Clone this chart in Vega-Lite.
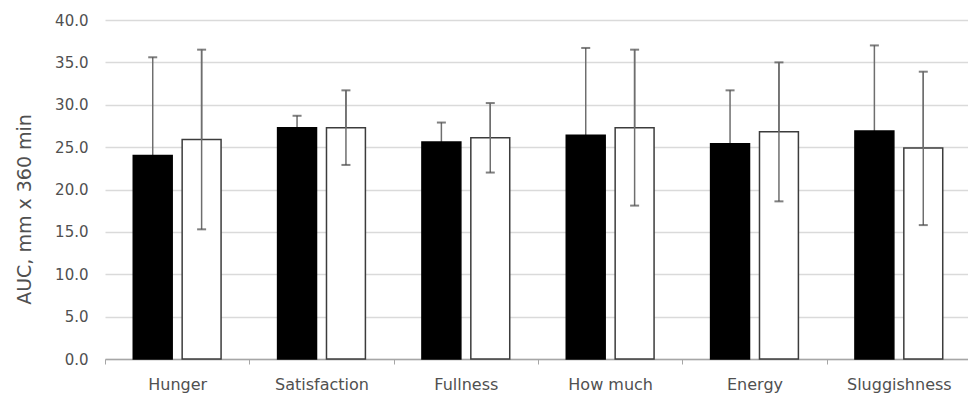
{
  "$schema": "https://vega.github.io/schema/vega-lite/v6.json",
  "autosize": {"type": "none"},
  "width": 866,
  "height": 339,
  "padding": {"left": 105, "top": 20, "right": 0, "bottom": 44},
  "background": "white",
  "config": {"view": {"stroke": null}},
  "data": {
    "values": [
      {"category": "Hunger", "group": "A", "mean": 24.0, "lo": 12.4, "hi": 35.6},
      {"category": "Hunger", "group": "B", "mean": 25.9, "lo": 15.3, "hi": 36.5},
      {"category": "Satisfaction", "group": "A", "mean": 27.3, "lo": 25.9, "hi": 28.7},
      {"category": "Satisfaction", "group": "B", "mean": 27.3, "lo": 22.9, "hi": 31.7},
      {"category": "Fullness", "group": "A", "mean": 25.6, "lo": 23.3, "hi": 27.9},
      {"category": "Fullness", "group": "B", "mean": 26.1, "lo": 22.0, "hi": 30.2},
      {"category": "How much", "group": "A", "mean": 26.4, "lo": 16.1, "hi": 36.7},
      {"category": "How much", "group": "B", "mean": 27.3, "lo": 18.1, "hi": 36.5},
      {"category": "Energy", "group": "A", "mean": 25.4, "lo": 19.1, "hi": 31.7},
      {"category": "Energy", "group": "B", "mean": 26.8, "lo": 18.6, "hi": 35.0},
      {"category": "Sluggishness", "group": "A", "mean": 26.9, "lo": 16.8, "hi": 37.0},
      {"category": "Sluggishness", "group": "B", "mean": 24.9, "lo": 15.8, "hi": 33.9}
    ]
  },
  "encoding": {
    "x": {
      "field": "category",
      "type": "nominal",
      "sort": null,
      "scale": {"paddingInner": 0, "paddingOuter": 0},
      "axis": {
        "title": null,
        "labelAngle": 0,
        "labelFont": "DejaVu Sans",
        "labelFontSize": 16,
        "labelColor": "#505050",
        "labelPadding": 12,
        "tickBand": "extent",
        "tickSize": 5,
        "tickColor": "#a6a6a6",
        "domainColor": "#a6a6a6",
        "domainWidth": 1.5,
        "grid": false
      }
    },
    "xOffset": {
      "field": "group",
      "type": "nominal",
      "scale": {"paddingInner": 0.204, "paddingOuter": 0.578}
    }
  },
  "layer": [
    {
      "mark": {"type": "rule", "color": "#6e6e6e", "strokeWidth": 1.5},
      "encoding": {
        "y": {
          "field": "lo",
          "type": "quantitative",
          "scale": {"domain": [0, 40], "nice": false},
          "axis": {
            "title": "AUC, mm x 360 min",
            "titleFont": "DejaVu Sans",
            "titleFontSize": 19,
            "titleFontWeight": "normal",
            "titleColor": "#505050",
            "titlePadding": 20,
            "titleY": 189,
            "values": [0, 5, 10, 15, 20, 25, 30, 35, 40],
            "format": ".1f",
            "labelFont": "DejaVu Sans",
            "labelFontSize": 15,
            "labelColor": "#505050",
            "labelPadding": 17,
            "domain": false,
            "ticks": false,
            "grid": true,
            "gridColor": "#dadada",
            "gridWidth": 1.5
          }
        },
        "y2": {"field": "hi"}
      }
    },
    {
      "mark": {"type": "tick", "color": "#4a4a4a", "thickness": 2, "size": 9, "orient": "horizontal"},
      "encoding": {"y": {"field": "hi", "type": "quantitative"}}
    },
    {
      "mark": {"type": "bar", "strokeWidth": 1.5},
      "encoding": {
        "y": {"field": "mean", "type": "quantitative"},
        "fill": {
          "field": "group",
          "type": "nominal",
          "scale": {"domain": ["A", "B"], "range": ["#000000", "#ffffff"]},
          "legend": null
        },
        "stroke": {
          "field": "group",
          "type": "nominal",
          "scale": {"domain": ["A", "B"], "range": ["#000000", "#3c3c3c"]},
          "legend": null
        }
      }
    },
    {
      "transform": [{"filter": "datum.group === 'B'"}],
      "layer": [
        {
          "mark": {"type": "rule", "color": "#6e6e6e", "strokeWidth": 1.5},
          "encoding": {
            "y": {"field": "lo", "type": "quantitative"},
            "y2": {"field": "hi"}
          }
        },
        {
          "mark": {"type": "tick", "color": "#4a4a4a", "thickness": 2, "size": 9, "orient": "horizontal"},
          "encoding": {"y": {"field": "lo", "type": "quantitative"}}
        }
      ]
    }
  ]
}
